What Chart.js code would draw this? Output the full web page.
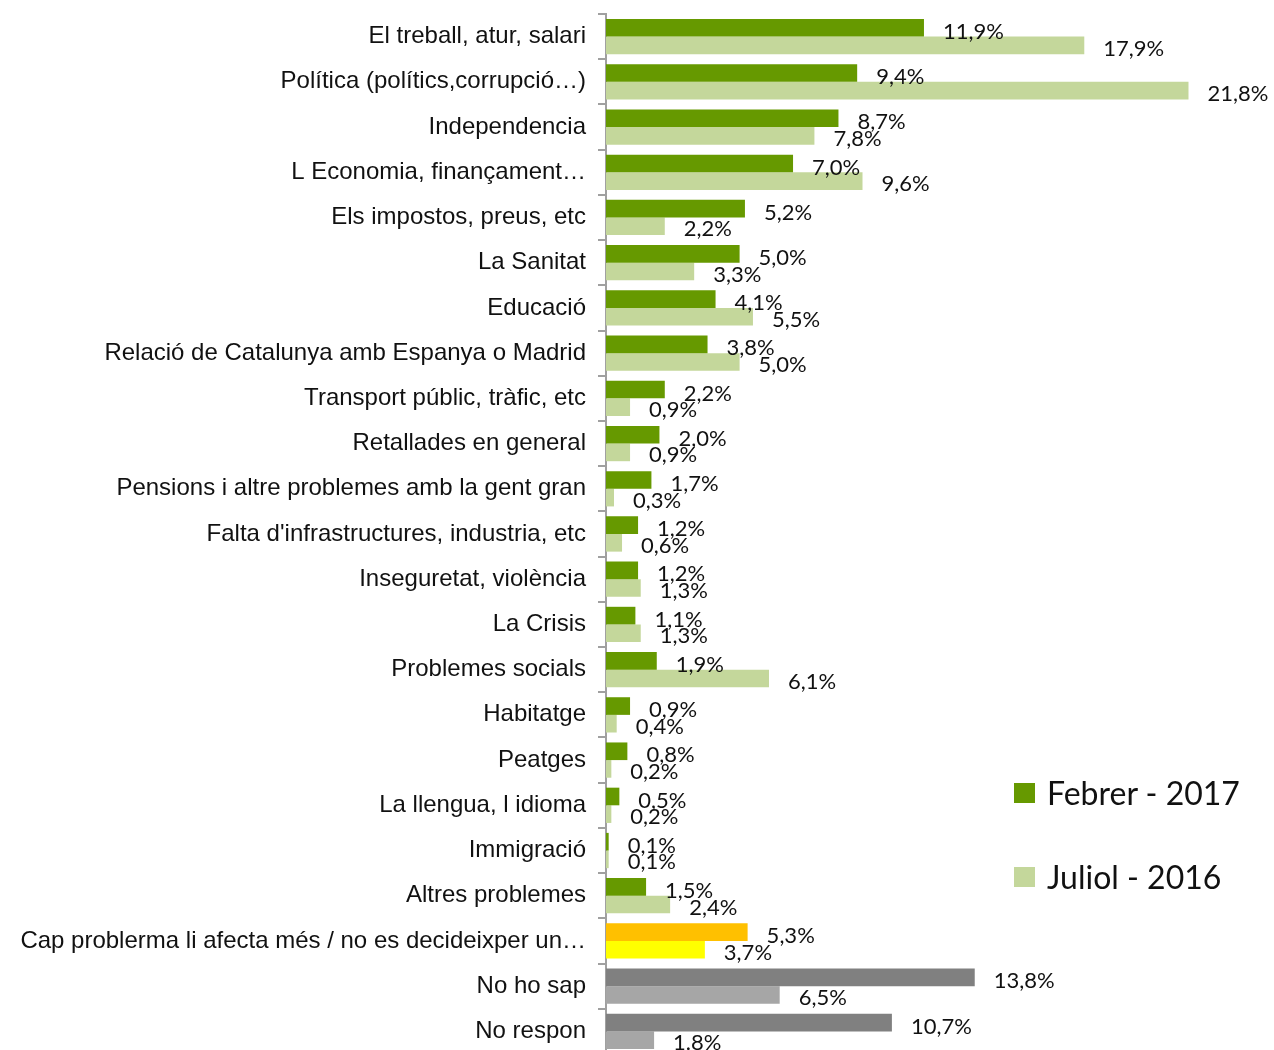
<!DOCTYPE html>
<html lang="ca">
  <head>
    <meta charset="UTF-8" />
    <title>Problemes de Catalunya</title>
    <script src="https://cdn.jsdelivr.net/npm/chart.js@4.4.1/dist/chart.umd.min.js"></script>
    <style>
      body { margin: 0; background: #fff; overflow: hidden; }
      .wrap { position: relative; width: 1274px; height: 1050px; overflow: hidden; }
      .box { position: absolute; left: 0; top: 0; width: 1274px; height: 1055px; }
      .legend { position: absolute; left: 1014px; top: 0; font-family: Lato, "Open Sans", sans-serif; font-size: 32px; color: #111; }
      .legend div { position: absolute; white-space: nowrap; line-height: 32px; }
      .legend span { display: inline-block; width: 21px; height: 20px; margin-right: 12px; vertical-align: 2px; }
    </style>
  </head>
  <body>
    <div class="wrap">
      <div class="box"><canvas id="myChart"></canvas></div>
      <div class="legend">
        <div style="top: 777px"><span style="background: #669900"></span>Febrer - 2017</div>
        <div style="top: 861px"><span style="background: #c4d79b"></span>Juliol - 2016</div>
      </div>
    </div>
    <script>
      const categories = [
        "El treball, atur, salari",
        "Política (polítics,corrupció…)",
        "Independencia",
        "L Economia, finançament…",
        "Els impostos, preus, etc",
        "La Sanitat",
        "Educació",
        "Relació de Catalunya amb Espanya o Madrid",
        "Transport públic, tràfic, etc",
        "Retallades en general",
        "Pensions i altre problemes amb la gent gran",
        "Falta d'infrastructures, industria, etc",
        "Inseguretat, violència",
        "La Crisis",
        "Problemes socials",
        "Habitatge",
        "Peatges",
        "La llengua, l idioma",
        "Immigració",
        "Altres problemes",
        "Cap problerma li afecta més / no es decideixper un…",
        "No ho sap",
        "No respon"
      ]
      const febrer2017 = [11.9, 9.4, 8.7, 7.0, 5.2, 5.0, 4.1, 3.8, 2.2, 2.0, 1.7, 1.2, 1.2, 1.1, 1.9, 0.9, 0.8, 0.5, 0.1, 1.5, 5.3, 13.8, 10.7]
      const juliol2016 = [17.9, 21.8, 7.8, 9.6, 2.2, 3.3, 5.5, 5.0, 0.9, 0.9, 0.3, 0.6, 1.3, 1.3, 6.1, 0.4, 0.2, 0.2, 0.1, 2.4, 3.7, 6.5, 1.8]
      const febrerLabels = ["11,9%", "9,4%", "8,7%", "7,0%", "5,2%", "5,0%", "4,1%", "3,8%", "2,2%", "2,0%", "1,7%", "1,2%", "1,2%", "1,1%", "1,9%", "0,9%", "0,8%", "0,5%", "0,1%", "1,5%", "5,3%", "13,8%", "10,7%"]
      const juliolLabels = ["17,9%", "21,8%", "7,8%", "9,6%", "2,2%", "3,3%", "5,5%", "5,0%", "0,9%", "0,9%", "0,3%", "0,6%", "1,3%", "1,3%", "6,1%", "0,4%", "0,2%", "0,2%", "0,1%", "2,4%", "3,7%", "6,5%", "1.8%"]

      // special rows get their own colours
      const specialColors = {
        "Cap problerma li afecta més / no es decideixper un…": ["#ffc000", "#ffff00"],
        "No ho sap": ["#808080", "#a6a6a6"],
        "No respon": ["#808080", "#a6a6a6"]
      }
      function barColor(series, base) {
        return (ctx) => {
          const s = specialColors[categories[ctx.dataIndex]]
          return s ? s[series] : base
        }
      }

      const valueLabels = {
        id: "valueLabels",
        afterDatasetsDraw(chart) {
          const ctx = chart.ctx
          ctx.save()
          ctx.font = "22px Lato, 'Open Sans', sans-serif"
          ctx.fillStyle = "#111"
          ctx.textAlign = "left"
          ctx.textBaseline = "middle"
          chart.data.datasets.forEach((ds, i) => {
            const meta = chart.getDatasetMeta(i)
            meta.data.forEach((bar, j) => {
              const dy = i === 0 ? 4 : 3
              ctx.fillText(ds.valueText[j], bar.x + 19, bar.y + dy)
            })
          })
          ctx.restore()
        }
      }

      const chartCtx = document.getElementById("myChart").getContext("2d")
      new Chart(chartCtx, {
        type: "bar",
        data: {
          labels: categories,
          datasets: [
            {
              label: "Febrer - 2017",
              data: febrer2017,
              valueText: febrerLabels,
              backgroundColor: barColor(0, "#669900"),
              categoryPercentage: 0.78,
              barPercentage: 1.0
            },
            {
              label: "Juliol - 2016",
              data: juliol2016,
              valueText: juliolLabels,
              backgroundColor: barColor(1, "#c4d79b"),
              categoryPercentage: 0.78,
              barPercentage: 1.0
            }
          ]
        },
        options: {
          indexAxis: "y",
          responsive: true,
          maintainAspectRatio: false,
          animation: false,
          layout: { padding: { top: 14, right: 0, bottom: 1, left: 0 } },
          plugins: {
            legend: { display: false },
            tooltip: { enabled: false }
          },
          scales: {
            x: { display: false, min: 0, max: 25 },
            y: {
              afterFit: (scale) => {
                scale.width = 606
                scale.paddingTop = 0
                scale.paddingBottom = 0
              },
              grid: {
                offset: true,
                drawOnChartArea: false,
                drawTicks: true,
                tickLength: 8,
                color: "#a0a0a0",
                lineWidth: 2
              },
              border: { display: true, color: "#a0a0a0", width: 2 },
              ticks: {
                padding: 12,
                color: "#111",
                font: { family: "'Liberation Sans', Arial, sans-serif", size: 24 }
              }
            }
          }
        },
        plugins: [valueLabels]
      })
    </script>
  </body>
</html>
